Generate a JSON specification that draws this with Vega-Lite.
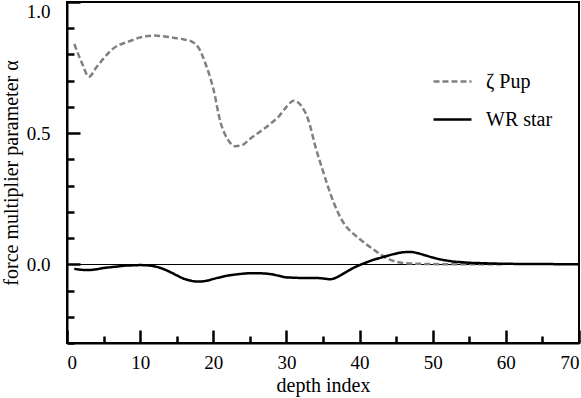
{
  "$schema": "https://vega.github.io/schema/vega-lite/v6.json",
  "width": 512,
  "height": 341,
  "autosize": {"type": "none"},
  "padding": {"left": 67, "top": 2, "right": 2, "bottom": 55},
  "config": {
    "view": {"stroke": "black", "strokeWidth": 2},
    "legend": {
      "orient": "none",
      "legendX": 365,
      "legendY": 59,
      "symbolType": "stroke",
      "symbolSize": 1444,
      "symbolStrokeWidth": 2.5,
      "labelFont": "Liberation Serif",
      "labelFontSize": 20,
      "labelColor": "black",
      "labelOffset": 13,
      "padding": 0,
      "rowPadding": 7
    }
  },
  "data": {
    "values": [
      {"series": "ζ Pup", "x": 1, "y": 0.84},
      {"series": "ζ Pup", "x": 2, "y": 0.77},
      {"series": "ζ Pup", "x": 3, "y": 0.715},
      {"series": "ζ Pup", "x": 4, "y": 0.75},
      {"series": "ζ Pup", "x": 5, "y": 0.785},
      {"series": "ζ Pup", "x": 6, "y": 0.815},
      {"series": "ζ Pup", "x": 7, "y": 0.835},
      {"series": "ζ Pup", "x": 8, "y": 0.845},
      {"series": "ζ Pup", "x": 9, "y": 0.855},
      {"series": "ζ Pup", "x": 10, "y": 0.865},
      {"series": "ζ Pup", "x": 11, "y": 0.87},
      {"series": "ζ Pup", "x": 12, "y": 0.872},
      {"series": "ζ Pup", "x": 13, "y": 0.87},
      {"series": "ζ Pup", "x": 14, "y": 0.866},
      {"series": "ζ Pup", "x": 15, "y": 0.862},
      {"series": "ζ Pup", "x": 16, "y": 0.857},
      {"series": "ζ Pup", "x": 17, "y": 0.85},
      {"series": "ζ Pup", "x": 18, "y": 0.825},
      {"series": "ζ Pup", "x": 19, "y": 0.76},
      {"series": "ζ Pup", "x": 20, "y": 0.67},
      {"series": "ζ Pup", "x": 21, "y": 0.54},
      {"series": "ζ Pup", "x": 22, "y": 0.475},
      {"series": "ζ Pup", "x": 23, "y": 0.45},
      {"series": "ζ Pup", "x": 24, "y": 0.455},
      {"series": "ζ Pup", "x": 25, "y": 0.478},
      {"series": "ζ Pup", "x": 26, "y": 0.498},
      {"series": "ζ Pup", "x": 27, "y": 0.518},
      {"series": "ζ Pup", "x": 28, "y": 0.54},
      {"series": "ζ Pup", "x": 29, "y": 0.565},
      {"series": "ζ Pup", "x": 30, "y": 0.6},
      {"series": "ζ Pup", "x": 31, "y": 0.624},
      {"series": "ζ Pup", "x": 32, "y": 0.605},
      {"series": "ζ Pup", "x": 33, "y": 0.55},
      {"series": "ζ Pup", "x": 34, "y": 0.445},
      {"series": "ζ Pup", "x": 35, "y": 0.355},
      {"series": "ζ Pup", "x": 36, "y": 0.27},
      {"series": "ζ Pup", "x": 37, "y": 0.2},
      {"series": "ζ Pup", "x": 38, "y": 0.15},
      {"series": "ζ Pup", "x": 39, "y": 0.12},
      {"series": "ζ Pup", "x": 40, "y": 0.097},
      {"series": "ζ Pup", "x": 41, "y": 0.075},
      {"series": "ζ Pup", "x": 42, "y": 0.055},
      {"series": "ζ Pup", "x": 43, "y": 0.035},
      {"series": "ζ Pup", "x": 44, "y": 0.02},
      {"series": "ζ Pup", "x": 45, "y": 0.01},
      {"series": "ζ Pup", "x": 46, "y": 0.005},
      {"series": "ζ Pup", "x": 47, "y": 0.003},
      {"series": "ζ Pup", "x": 48, "y": 0.002},
      {"series": "ζ Pup", "x": 50, "y": 0.001},
      {"series": "ζ Pup", "x": 55, "y": 0},
      {"series": "ζ Pup", "x": 60, "y": 0},
      {"series": "WR star", "x": 1, "y": -0.017},
      {"series": "WR star", "x": 2, "y": -0.021},
      {"series": "WR star", "x": 3, "y": -0.022},
      {"series": "WR star", "x": 4, "y": -0.019},
      {"series": "WR star", "x": 5, "y": -0.014},
      {"series": "WR star", "x": 6, "y": -0.011},
      {"series": "WR star", "x": 7, "y": -0.008},
      {"series": "WR star", "x": 8, "y": -0.005},
      {"series": "WR star", "x": 9, "y": -0.004},
      {"series": "WR star", "x": 10, "y": -0.003},
      {"series": "WR star", "x": 11, "y": -0.004},
      {"series": "WR star", "x": 12, "y": -0.008},
      {"series": "WR star", "x": 13, "y": -0.016},
      {"series": "WR star", "x": 14, "y": -0.028},
      {"series": "WR star", "x": 15, "y": -0.042},
      {"series": "WR star", "x": 16, "y": -0.055},
      {"series": "WR star", "x": 17, "y": -0.063},
      {"series": "WR star", "x": 18, "y": -0.066},
      {"series": "WR star", "x": 19, "y": -0.063},
      {"series": "WR star", "x": 20, "y": -0.056},
      {"series": "WR star", "x": 21, "y": -0.049},
      {"series": "WR star", "x": 22, "y": -0.043},
      {"series": "WR star", "x": 23, "y": -0.039},
      {"series": "WR star", "x": 24, "y": -0.036},
      {"series": "WR star", "x": 25, "y": -0.034},
      {"series": "WR star", "x": 26, "y": -0.034},
      {"series": "WR star", "x": 27, "y": -0.035},
      {"series": "WR star", "x": 28, "y": -0.038},
      {"series": "WR star", "x": 29, "y": -0.044},
      {"series": "WR star", "x": 30, "y": -0.05},
      {"series": "WR star", "x": 31, "y": -0.051},
      {"series": "WR star", "x": 32, "y": -0.052},
      {"series": "WR star", "x": 33, "y": -0.052},
      {"series": "WR star", "x": 34, "y": -0.052},
      {"series": "WR star", "x": 35, "y": -0.054},
      {"series": "WR star", "x": 36, "y": -0.057},
      {"series": "WR star", "x": 37, "y": -0.048},
      {"series": "WR star", "x": 38, "y": -0.032},
      {"series": "WR star", "x": 39, "y": -0.016},
      {"series": "WR star", "x": 40, "y": -0.003},
      {"series": "WR star", "x": 41, "y": 0.008},
      {"series": "WR star", "x": 42, "y": 0.018},
      {"series": "WR star", "x": 43, "y": 0.026},
      {"series": "WR star", "x": 44, "y": 0.034},
      {"series": "WR star", "x": 45, "y": 0.041},
      {"series": "WR star", "x": 46, "y": 0.046},
      {"series": "WR star", "x": 47, "y": 0.047},
      {"series": "WR star", "x": 48, "y": 0.042},
      {"series": "WR star", "x": 49, "y": 0.034},
      {"series": "WR star", "x": 50, "y": 0.026},
      {"series": "WR star", "x": 51, "y": 0.019},
      {"series": "WR star", "x": 52, "y": 0.014},
      {"series": "WR star", "x": 53, "y": 0.01},
      {"series": "WR star", "x": 54, "y": 0.008},
      {"series": "WR star", "x": 55, "y": 0.006},
      {"series": "WR star", "x": 57, "y": 0.004},
      {"series": "WR star", "x": 60, "y": 0.002},
      {"series": "WR star", "x": 65, "y": 0.001},
      {"series": "WR star", "x": 70, "y": 0}
    ]
  },
  "mark": {"type": "line", "strokeWidth": 2.5, "interpolate": "monotone"},
  "encoding": {
    "x": {"field": "x", "type": "quantitative", "scale": {"domain": [0, 70], "nice": false, "zero": false},
          "axis": {"orient": "bottom", "tickCount": 14,
                   "labelExpr": "datum.value % 10 === 0 ? datum.label : ''",
                   "title": "depth index",
                   "tickColor": "black", "tickWidth": 2.5,
                   "tickSize": {"condition": {"test": "datum.value % 10 === 0", "value": -13}, "value": -7},
                   "gridOpacity": 0,
                   "domainColor": "black", "domainWidth": 2,
                   "labelFont": "Liberation Serif", "labelFontSize": 19, "labelColor": "black",
                   "titleFont": "Liberation Serif", "titleFontSize": 20, "titleFontWeight": "normal", "titleColor": "black",
                   "labelPadding": 23, "titlePadding": 3}},
    "y": {"field": "y", "type": "quantitative", "scale": {"domain": [-0.3, 1.0], "nice": false, "zero": false},
          "axis": {"orient": "left", "tickCount": 13,
                   "labelExpr": "abs(round(datum.value * 10)) % 5 === 0 ? format(datum.value, '.1f') : ''",
                   "title": "force multiplier parameter α",
                   "tickColor": "black", "tickWidth": 2.5,
                   "tickSize": {"condition": {"test": "abs(round(datum.value * 10)) % 5 === 0", "value": -13}, "value": -7},
                   "gridColor": "black", "gridWidth": 1,
                   "gridOpacity": {"condition": {"test": "abs(datum.value) < 0.001", "value": 1}, "value": 0},
                   "domainColor": "black", "domainWidth": 2,
                   "labelFont": "Liberation Serif", "labelFontSize": 19, "labelColor": "black",
                   "titleFont": "Liberation Serif", "titleFontSize": 20, "titleFontWeight": "normal", "titleColor": "black",
                   "labelPadding": 30, "labelFlush": true, "titlePadding": 5}},
    "color": {"field": "series", "type": "nominal", "scale": {"domain": ["ζ Pup", "WR star"], "range": ["#808080", "#000000"]}, "legend": {"title": null}},
    "strokeDash": {"field": "series", "type": "nominal", "scale": {"domain": ["ζ Pup", "WR star"], "range": [[6, 3], [1, 0]]}, "legend": {"title": null}}
  }
}
